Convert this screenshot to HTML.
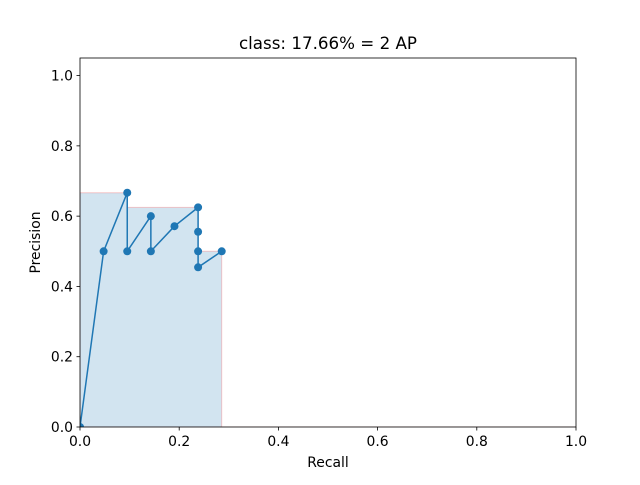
<!DOCTYPE html>
<html><head><meta charset="utf-8"><style>
body{margin:0;background:#fff;}
svg text{font-family:"DejaVu Sans","Liberation Sans",sans-serif;fill:#000;}
</style></head><body>
<svg id="chart" width="640" height="480" xmlns="http://www.w3.org/2000/svg">
<defs><clipPath id="axclip"><rect x="80" y="58" width="496" height="369"/></clipPath></defs>
<rect width="640" height="480" fill="#fff"/>
<g id="plot"></g>
</svg>
<script>
const recall = [0, 1/21, 2/21, 2/21, 3/21, 3/21, 4/21, 5/21, 5/21, 5/21, 5/21, 6/21];
const precision = [0, 0.5, 0.6667, 0.5, 0.6, 0.5, 0.5714, 0.625, 0.5556, 0.5, 0.4545, 0.5];
const areaRecall = [0, 2/21, 2/21, 5/21, 5/21, 6/21, 6/21, 1.0];
const areaPrecision = [0.6667, 0.6667, 0.625, 0.625, 0.5, 0.5, 0, 0];
const xTicks = ["0.0","0.2","0.4","0.6","0.8","1.0"];
const yTicks = ["0.0","0.2","0.4","0.6","0.8","1.0"];
const NS="http://www.w3.org/2000/svg";
const L=80,R=576,T=58,B=427;
const sx=v=>L+v*(R-L);
const sy=v=>B-v/1.05*(B-T);
const g=document.getElementById('plot');
function mk(t,a,p){const e=document.createElementNS(NS,t);for(const k in a)e.setAttribute(k,a[k]);(p||g).appendChild(e);return e;}
const cg=mk('g',{'clip-path':'url(#axclip)'});


let d=`M${sx(areaRecall[0])},${sy(0)}`;
areaRecall.forEach((r,i)=>{d+=` L${sx(r)},${sy(areaPrecision[i])}`;});
d+=` L${sx(1)},${sy(0)} Z`;
const area=mk('path',{d,fill:'#1f77b4','fill-opacity':0.2,stroke:'red','stroke-opacity':0.2,'stroke-width':1},cg);


const pts=recall.map((r,i)=>`${sx(r)},${sy(precision[i])}`).join(' ');
const line=mk('polyline',{points:pts,fill:'none',stroke:'#1f77b4','stroke-width':1.5},cg);


recall.forEach((r,i)=>{
  const c=mk('circle',{cx:sx(r),cy:sy(precision[i]),r:4,fill:'#1f77b4'},cg);
  
  
});
const fr=mk('rect',{x:L,y:T,width:R-L,height:B-T,fill:'none',stroke:'#000','stroke-width':0.8});


xTicks.forEach(t=>{
  const x=sx(parseFloat(t));
  mk('line',{x1:x,x2:x,y1:B,y2:B+3.5,stroke:'#000','stroke-width':0.8});
  const tx=mk('text',{x:x,y:B+19,'text-anchor':'middle','font-size':13.9});
  tx.textContent=t;
  
  
});
yTicks.forEach(t=>{
  const y=sy(parseFloat(t));
  mk('line',{x1:L-3.5,x2:L,y1:y,y2:y,stroke:'#000','stroke-width':0.8});
  const tx=mk('text',{x:L-7,y:y+5,'text-anchor':'end','font-size':13.9});
  tx.textContent=t;
  
  
});
const xt=mk('text',{x:(L+R)/2,y:467,'text-anchor':'middle','font-size':13.9});
xt.textContent='Recall';


const yt=mk('text',{x:0,y:0,'text-anchor':'middle','font-size':13.9,transform:`translate(40,${(T+B)/2}) rotate(-90)`});
yt.textContent='Precision';


const ti=mk('text',{x:(L+R)/2,y:49,'text-anchor':'middle','font-size':16.7});
ti.textContent='class: 17.66% = 2 AP';


</script>
</body></html>
